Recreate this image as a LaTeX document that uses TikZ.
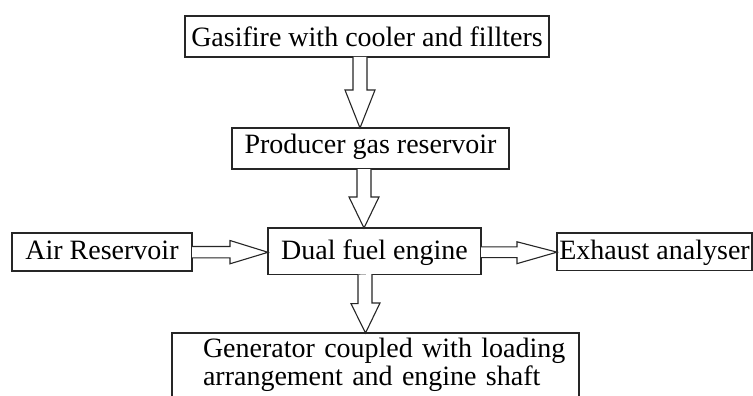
\documentclass[tikz,border=0pt]{standalone}
\usepackage{fontspec}
\setmainfont{Liberation Serif}
\usetikzlibrary{calc}
\begin{document}
\begin{tikzpicture}[x=1pt,y=-1pt,
  box/.style 2 args={draw=black!85, line width=1.1pt, inner xsep=0pt, inner ysep=0pt,
     outer sep=0pt, anchor=north west, text height=#1, text depth=#2,
     font=\fontsize{28}{28}\selectfont},
  blk/.style={draw=black!85, line width=1.1pt, fill=white, line join=miter}]
\useasboundingbox (0,0) rectangle (753,396);

\node[box={30.7pt}{10.3pt}, minimum width=364pt] (g) at (185,16) {Gasifire with cooler and fillters};
\node[box={25.7pt}{15.3pt}, minimum width=277pt] (p) at (232,128) {Producer gas reservoir};
\node[box={26.6pt}{11.4pt}, minimum width=180pt] (a) at (12,233) {Air Reservoir};
\node[box={31.6pt}{15pt}, minimum width=213pt] (d) at (268,228) {Dual fuel engine};
\node[box={26.6pt}{10.7pt}, minimum width=195pt] (e) at (557,233) {Exhaust analyser};
\node[box={24pt}{60pt}, text width=407pt, align=left,
      execute at begin node={\leftskip=31pt}] (gen) at (172,333)
  {Generator coupled with loading\\arrangement and engine shaft};

% block arrows
\draw[blk] ($(g.south)+(-14,0)$) -- ++(0,33) -- ++(-8,0) -- ($(p.north)+(-10.5,0)$)
  -- ++(15,-38) -- ++(-8,0) -- ++(0,-33);
\draw[blk] ($(p.south)+(-13.5,0)$) -- ++(0,28) -- ++(-8,0) -- ($(d.north)+(-10.5,0)$)
  -- ++(15,-31) -- ++(-8,0) -- ++(0,-28);
\draw[blk] ($(a.east)+(0,-5.5)$) -- ++(38,0) -- ++(0,-6) -- ($(d.west)+(0,1)$)
  -- ++(-38,11.5) -- ++(0,-6) -- ++(-38,0);
\draw[blk] ($(d.east)+(0,-4.5)$) -- ++(36,0) -- ++(0,-5) -- ($(e.west)+(0,0.5)$)
  -- ++(-40,11.5) -- ++(0,-6) -- ++(-36,0);
\draw[blk] ($(d.south)+(-16.5,0)$) -- ++(0,29) -- ++(-7,0) -- ($(gen.north)+(-10,0)$)
  -- ++(14.5,-30) -- ++(-8,0) -- ++(0,-29);
\end{tikzpicture}
\end{document}
